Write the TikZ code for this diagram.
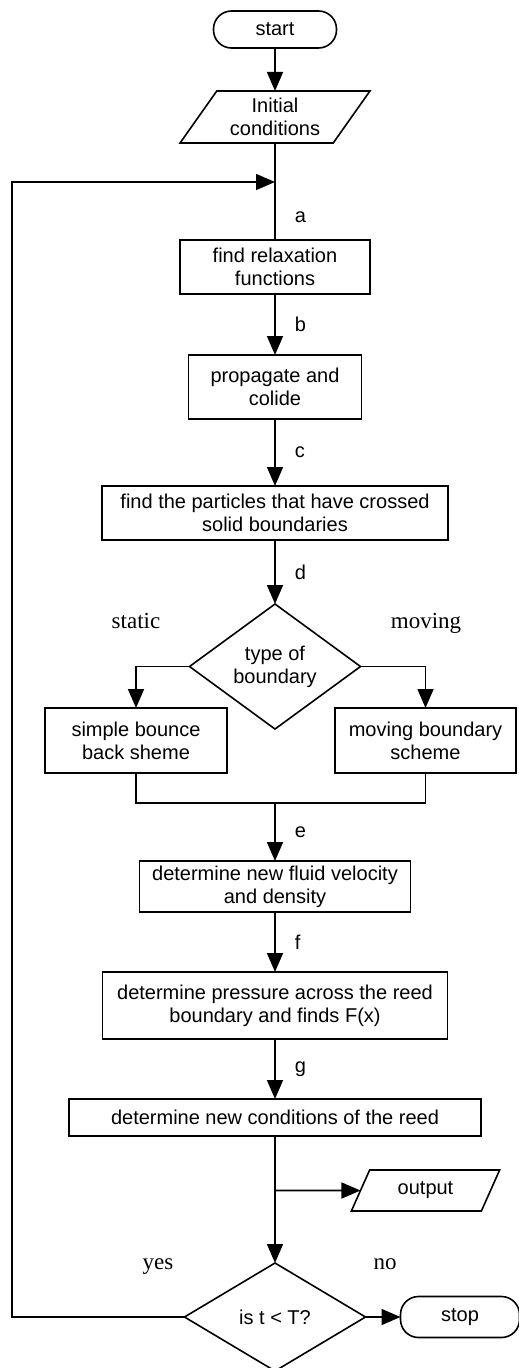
\documentclass[tikz,border=0pt]{standalone}
\usepackage{fontspec}
\setmainfont{Liberation Sans}
\newfontfamily\notefont{Liberation Serif}
\usetikzlibrary{positioning}
\usetikzlibrary{arrows.meta}
\usetikzlibrary{shapes.geometric}

\begin{document}
\begin{tikzpicture}[x=1pt,y=1pt,line width=1.6pt,font=\fontsize{20}{23}\selectfont]
\tikzset{process/.style={rectangle, draw, align=center, inner sep=2pt, outer sep=0pt}}
\tikzset{decision/.style={diamond, draw, align=center, inner sep=0pt, outer sep=0pt}}
\tikzset{terminal/.style={rectangle, draw, rounded corners=18pt, outer sep=0pt}}
\tikzset{io/.style={trapezium, trapezium stretches=true, draw, align=center, inner sep=0pt, outer sep=0pt}}
\tikzset{arr/.style={-{Triangle[length=19pt,width=16pt]}}}
\tikzset{lbl/.style={right=19pt, inner sep=0pt}}
\tikzset{note/.style={anchor=base, inner sep=0pt, font=\notefont\fontsize{23}{26}\selectfont}}
\useasboundingbox (0,0) rectangle (519,-1368);
% main column
\node[terminal, minimum width=123pt, minimum height=37pt] (start) at (275,-29.5) {start};
\node[io, trapezium left angle=53, trapezium right angle=127, minimum width=190pt, minimum height=52pt, below=43pt of start] (init) {Initial\\conditions};
\node[process, minimum width=190pt, minimum height=54pt, below=97pt of init] (relax) {find relaxation\\functions};
\node[process, minimum width=173pt, minimum height=64pt, below=61pt of relax] (prop) {propagate and\\colide};
\node[process, minimum width=346pt, minimum height=54pt, below=67pt of prop] (cross) {find the particles that have crossed\\solid boundaries};
\node[decision, minimum width=171pt, minimum height=90pt, below=64pt of cross] (type) {type of\\boundary};
\node[process, minimum width=182pt, minimum height=65pt] (bounce) at (136,-740.5) {simple bounce\\back sheme};
\node[process, minimum width=181pt, minimum height=65pt] (moving) at (425.5,-740.5) {moving boundary\\scheme};
\coordinate (merge) at (275,-803);
\node[process, minimum width=271pt, minimum height=51pt, below=58pt of merge] (fluid) {determine new fluid velocity\\and density};
\node[process, minimum width=345pt, minimum height=67pt, below=60pt of fluid] (press) {determine pressure across the reed\\boundary and finds F(x)};
\node[process, minimum width=412pt, minimum height=37pt, below=60pt of press] (reed) {determine new conditions of the reed};
\node[decision, minimum width=181pt, minimum height=108pt, below=127pt of reed] (test) {is t < T?};
\node[terminal, minimum width=119pt, minimum height=41pt, right=35pt of test] (stop) {stop};
\node[io, trapezium left angle=62, trapezium right angle=118, minimum width=149pt, minimum height=41pt] (output) at (425.5,-1190.5) {output};
% branch notes
\node[note] (static) at (136,-628) {static};
\node[note] (movnote) at (426,-628) {moving};
\node[note] (yes) at (158,-1269) {yes};
\node[note] (no) at (385,-1269) {no};
% connectors
\coordinate (loopin) at (275,-182);
\coordinate (loopx) at (12,0);
\coordinate (jn) at (275,-1190.5);
\draw[arr] (start) -- (init);
\draw (init) -- (loopin) -- node[lbl, pos=0.6] (la) {a} (relax);
\draw[arr] (relax) -- node[lbl] (lb) {b} (prop);
\draw[arr] (prop) -- node[lbl] (lc) {c} (cross);
\draw[arr] (cross) -- node[lbl] (ld) {d} (type);
\draw[arr] (type.west) -| (bounce);
\draw[arr] (type.east) -| (moving);
\draw (bounce.south) |- (merge) -| (moving.south);
\draw[arr] (merge) -- node[lbl] (le) {e} (fluid);
\draw[arr] (fluid) -- node[lbl] (lf) {f} (press);
\draw[arr] (press) -- node[lbl] (lg) {g} (reed);
\draw[arr] (reed) -- (test);
\draw[arr] (jn) -- (output);
\draw[arr] (test) -- (stop);
\draw[arr] (test.west) -- (test.west -| loopx) |- (loopin);
\end{tikzpicture}
\end{document}
